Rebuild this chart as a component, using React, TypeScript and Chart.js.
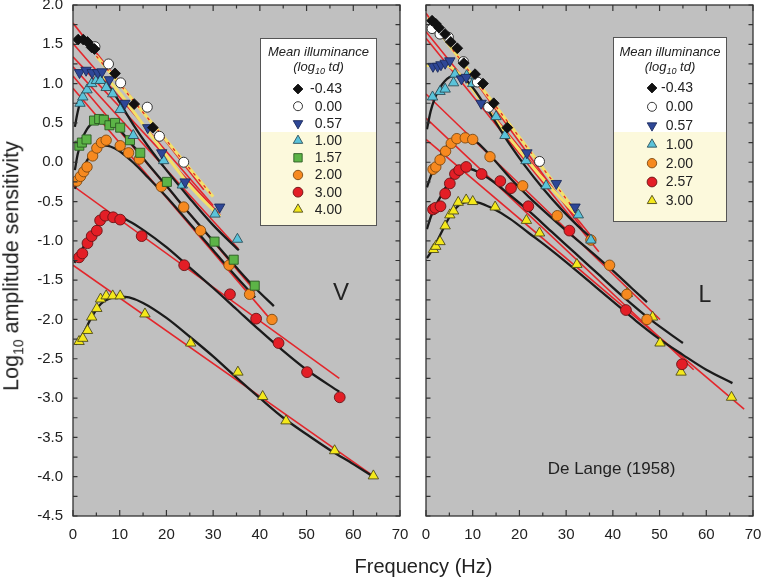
import React, { useEffect, useRef } from 'react';
import { Chart, registerables } from 'chart.js';
import { drawPoint } from 'chart.js/helpers';

Chart.register(...registerables);

const FONT = "'Liberation Sans', Arial, Helvetica, sans-serif";

// ---------- axis ticks ----------
const X_TICKS = [0, 10, 20, 30, 40, 50, 60, 70];
const X_MINOR = [0, 5, 10, 15, 20, 25, 30, 35, 40, 45, 50, 55, 60, 65, 70];
const Y_TICKS = [-4.5, -4.0, -3.5, -3.0, -2.5, -2.0, -1.5, -1.0, -0.5, 0.0, 0.5, 1.0, 1.5, 2.0];
const Y_MINOR = [-4.5, -4.25, -4.0, -3.75, -3.5, -3.25, -3.0, -2.75, -2.5, -2.25, -2.0, -1.75, -1.5, -1.25, -1.0, -0.75, -0.5, -0.25, 0.0, 0.25, 0.5, 0.75, 1.0, 1.25, 1.5, 1.75, 2.0];

// ---------- left panel (V) ----------
const V_LABELS = ['-0.43', '0.00', '0.57', '1.00', '1.57', '2.00', '3.00', '4.00'];
const V_m043_f = [1.1, 2.2, 3.1, 4.0, 4.6, 9.0, 13.1, 17.1];
const V_m043_v = [1.56, 1.56, 1.53, 1.46, 1.44, 1.13, 0.74, 0.44];
const V_000_f = [4.7, 7.6, 10.2, 15.9, 18.5, 23.7];
const V_000_v = [1.47, 1.25, 1.01, 0.70, 0.33, 0.00];
const V_057_f = [1.4, 2.8, 4.1, 5.3, 6.2, 7.8, 11.1, 16.0, 19.0, 24.0, 31.4];
const V_057_v = [1.14, 1.17, 1.14, 1.14, 1.15, 1.05, 0.75, 0.44, 0.12, -0.25, -0.57];
const V_100_f = [1.5, 2.1, 3.0, 4.0, 5.0, 5.9, 7.1, 8.5, 10.1, 12.9, 19.4, 23.4, 30.4, 35.2];
const V_100_v = [0.75, 0.83, 0.92, 1.00, 1.04, 1.04, 0.95, 0.87, 0.67, 0.34, 0.02, -0.29, -0.66, -0.98];
const V_157_f = [1.35, 1.9, 2.9, 4.5, 5.6, 6.6, 7.8, 9.0, 10.1, 12.2, 14.4, 20.1, 30.3, 34.4, 38.9];
const V_157_v = [0.21, 0.25, 0.29, 0.53, 0.55, 0.54, 0.47, 0.50, 0.44, 0.28, 0.12, -0.25, -1.01, -1.24, -1.57];
const V_200_f = [0.8, 1.6, 2.3, 3.0, 4.2, 5.1, 6.1, 7.1, 10.1, 11.9, 14.2, 18.9, 23.7, 27.3, 33.4, 37.8, 42.6];
const V_200_v = [-0.24, -0.18, -0.12, -0.06, 0.08, 0.18, 0.25, 0.28, 0.21, 0.12, 0.04, -0.31, -0.57, -0.87, -1.31, -1.68, -2.00];
const V_300_f = [1.3, 2.0, 3.1, 4.0, 5.1, 5.8, 6.9, 8.6, 10.1, 14.7, 23.8, 33.6, 39.2, 44.0, 50.1, 57.1];
const V_300_v = [-1.21, -1.16, -1.03, -0.94, -0.87, -0.74, -0.68, -0.70, -0.73, -0.94, -1.31, -1.68, -1.99, -2.30, -2.67, -2.99];
const V_400_f = [1.3, 2.1, 3.1, 4.0, 5.1, 5.9, 7.1, 8.5, 10.1, 15.4, 25.2, 35.3, 40.6, 45.6, 56.0, 64.3];
const V_400_v = [-2.28, -2.24, -2.14, -1.97, -1.86, -1.74, -1.70, -1.70, -1.70, -1.93, -2.30, -2.67, -2.98, -3.29, -3.67, -3.99];

// fitted curves (black)
const V_FIT100_f = [0.4, 1, 2, 3, 4, 5, 6, 7, 8.5, 10, 13, 16, 20, 25, 30, 35.5];
const V_FIT100_v = [0.45, 0.64, 0.85, 0.95, 1.01, 1.04, 1.04, 1.0, 0.9, 0.76, 0.47, 0.21, -0.1, -0.46, -0.8, -1.12];
const V_FIT157_f = [0.4, 1, 2, 3, 4, 5, 6.5, 8, 10, 13, 16, 20, 25, 30, 35, 39, 43];
const V_FIT157_v = [-0.1, 0.1, 0.3, 0.42, 0.49, 0.53, 0.54, 0.51, 0.41, 0.2, -0.02, -0.3, -0.66, -1.0, -1.34, -1.6, -1.83];
const V_FIT200_f = [0.4, 1, 2, 3, 4, 5, 6, 7, 8, 10, 13, 16, 20, 25, 30, 35, 39];
const V_FIT200_v = [-0.34, -0.24, -0.1, 0.02, 0.11, 0.17, 0.2, 0.21, 0.2, 0.14, -0.01, -0.19, -0.44, -0.78, -1.12, -1.46, -1.72];
const V_FIT300_f = [0.3, 2, 4, 6, 8, 10, 12, 15, 20, 25, 30, 35, 40, 45, 50, 57];
const V_FIT300_v = [-1.28, -1.1, -0.9, -0.76, -0.7, -0.7, -0.75, -0.86, -1.08, -1.34, -1.6, -1.87, -2.14, -2.4, -2.64, -2.92];
const V_FIT400_f = [0.5, 2, 4, 6, 8, 10, 12, 15, 20, 25, 30, 35, 40, 45, 50, 55, 60, 64.3];
const V_FIT400_v = [-2.32, -2.2, -1.97, -1.8, -1.73, -1.71, -1.72, -1.79, -1.98, -2.22, -2.47, -2.74, -3.0, -3.25, -3.46, -3.66, -3.84, -4.0];
// yellow curves
const V_YEL057_f = [5.5, 8, 10, 13, 16, 19, 22, 25, 28, 31.5];
const V_YEL057_v = [1.12, 1.02, 0.88, 0.64, 0.4, 0.16, -0.07, -0.3, -0.49, -0.69];
const V_YELTOP_f = [5, 30];
const V_YELTOP_v = [1.35, -0.44];
// straight red lines
const V_RED_F = [[0, 28], [0, 30], [0, 31.5], [0, 35.4], [0, 39], [0, 43], [0, 57], [0, 64.5]];
const V_RED_V = [[1.77, -0.35], [1.51, -0.55], [1.34, -0.67], [1.215, -1.1], [1.097, -1.64], [0.94, -2.05], [-0.30, -2.75], [-1.31, -4.0]];

// ---------- right panel (L) ----------
const L_LABELS = ['-0.43', '0.00', '0.57', '1.00', '2.00', '2.57', '3.00'];
const L_m043_f = [1.3, 2.1, 2.8, 4.1, 5.3, 6.7, 8.1, 10.5, 12.2, 14.5, 17.4];
const L_m043_v = [1.80, 1.76, 1.71, 1.63, 1.53, 1.45, 1.26, 1.12, 1.00, 0.75, 0.44];
const L_000_f = [1.3, 3.0, 4.8, 8.0, 11.0, 13.4, 24.3];
const L_000_v = [1.70, 1.63, 1.59, 1.28, 1.02, 0.70, 0.01];
const L_057_f = [1.5, 2.5, 3.2, 4.1, 5.1, 7.6, 8.6, 11.8, 13.5, 21.6, 27.9, 31.9];
const L_057_v = [1.22, 1.22, 1.24, 1.26, 1.29, 1.06, 1.08, 0.75, 0.70, 0.12, -0.27, -0.57];
const L_100_f = [1.4, 3.0, 4.1, 5.9, 6.2, 8.7, 10.0, 15.0, 16.9, 21.4, 25.7, 32.6, 35.3];
const L_100_v = [0.83, 0.90, 0.93, 1.01, 1.12, 1.10, 1.00, 0.58, 0.34, 0.02, -0.30, -0.67, -0.99];
const L_200_f = [1.5, 2.1, 3.0, 4.2, 5.4, 6.6, 8.4, 10.0, 13.7, 20.7, 28.1, 35.3, 39.3, 43.0, 47.3];
const L_200_v = [-0.09, -0.06, 0.03, 0.14, 0.24, 0.30, 0.31, 0.29, 0.07, -0.30, -0.68, -0.99, -1.31, -1.68, -2.00];
const L_257_f = [1.5, 2.0, 3.1, 4.1, 5.1, 6.2, 7.1, 8.6, 11.9, 15.9, 18.2, 21.9, 30.7, 42.8, 54.8];
const L_257_v = [-0.60, -0.58, -0.56, -0.40, -0.27, -0.15, -0.10, -0.06, -0.15, -0.24, -0.33, -0.56, -0.87, -1.88, -2.57];
const L_300_f = [1.6, 2.1, 3.0, 4.1, 5.1, 5.9, 6.9, 8.6, 10.0, 14.8, 21.5, 24.3, 32.3, 43.1, 48.5, 50.1, 54.6, 65.4];
const L_300_v = [-1.11, -1.07, -1.01, -0.81, -0.67, -0.62, -0.51, -0.48, -0.50, -0.57, -0.74, -0.90, -1.30, -1.67, -1.97, -2.30, -2.67, -2.99];

const L_FIT100_f = [0.2, 1, 2, 3, 4, 5, 6, 7, 8.5, 10, 12, 15, 18, 21, 25, 29, 32, 35.5];
const L_FIT100_v = [0.42, 0.65, 0.83, 0.95, 1.03, 1.08, 1.1, 1.1, 1.05, 0.95, 0.78, 0.5, 0.22, -0.03, -0.33, -0.6, -0.78, -0.97];
const L_FIT200_f = [0.2, 1, 2, 3, 4, 5, 6, 7, 8, 9, 11, 14, 18, 22, 26, 30, 35, 40, 44, 47.3];
const L_FIT200_v = [-0.32, -0.18, -0.03, 0.08, 0.17, 0.24, 0.29, 0.32, 0.33, 0.32, 0.25, 0.07, -0.2, -0.44, -0.66, -0.87, -1.12, -1.38, -1.6, -1.78];
const L_FIT257_f = [0.2, 1, 2, 3, 4, 5, 6, 7, 8, 9, 11, 14, 18, 22, 27, 32, 37, 42, 48, 55];
const L_FIT257_v = [-0.85, -0.7, -0.56, -0.45, -0.34, -0.24, -0.16, -0.11, -0.08, -0.08, -0.12, -0.23, -0.42, -0.62, -0.89, -1.16, -1.43, -1.7, -2.0, -2.3];
const L_FIT300_f = [0.2, 1.5, 3, 5, 7, 9, 11, 14, 18, 22, 26, 30, 35, 40, 45, 50, 55, 60, 65.6];
const L_FIT300_v = [-1.22, -1.1, -0.93, -0.7, -0.55, -0.5, -0.51, -0.58, -0.72, -0.9, -1.08, -1.27, -1.52, -1.77, -2.02, -2.25, -2.45, -2.64, -2.81];
const L_YEL057_f = [0, 3, 5, 7, 9, 12, 15, 18, 21, 24, 27, 30, 33];
const L_YEL057_v = [1.23, 1.24, 1.22, 1.13, 1.0, 0.77, 0.53, 0.3, 0.08, -0.14, -0.34, -0.53, -0.72];
const L_YELTOP_f = [0.5, 33];
const L_YELTOP_v = [1.84, -0.7];
const L_RED_F = [[0, 33.5], [0, 35.5], [0, 37], [0, 50.1], [0, 57.3], [0, 68.1]];
const L_RED_V = [[1.894, -0.85], [1.66, -0.95], [1.576, -1.14], [0.868, -2.0], [0.56, -2.64], [0.29, -3.14]];

// ---------- styles ----------
type Mark = { pointStyle: string; bg: string; border: string; radius: number; rotation: number };
const MARK: Record<string, Mark> = {
  diamond: { pointStyle: 'rectRot', bg: '#111111', border: '#111111', radius: 5.4, rotation: 0 },
  open: { pointStyle: 'circle', bg: '#ffffff', border: '#222222', radius: 5, rotation: 0 },
  down: { pointStyle: 'triangle', bg: '#2e4797', border: '#1b2a5c', radius: 6, rotation: 180 },
  up: { pointStyle: 'triangle', bg: '#5ac3da', border: '#2c4f5a', radius: 6, rotation: 0 },
  square: { pointStyle: 'rect', bg: '#5cb447', border: '#2b5a22', radius: 6.4, rotation: 0 },
  orange: { pointStyle: 'circle', bg: '#f6891f', border: '#7d4a12', radius: 5.2, rotation: 0 },
  red: { pointStyle: 'circle', bg: '#e31e26', border: '#6a1416', radius: 5.4, rotation: 0 },
  yellow: { pointStyle: 'triangle', bg: '#f4e81b', border: '#4d4a1c', radius: 6, rotation: 0 },
};

const V_SERIES = [
  { f: V_m043_f, v: V_m043_v, m: 'diamond' },
  { f: V_000_f, v: V_000_v, m: 'open' },
  { f: V_057_f, v: V_057_v, m: 'down' },
  { f: V_100_f, v: V_100_v, m: 'up' },
  { f: V_157_f, v: V_157_v, m: 'square' },
  { f: V_200_f, v: V_200_v, m: 'orange' },
  { f: V_300_f, v: V_300_v, m: 'red' },
  { f: V_400_f, v: V_400_v, m: 'yellow' },
];
const L_SERIES = [
  { f: L_m043_f, v: L_m043_v, m: 'diamond' },
  { f: L_000_f, v: L_000_v, m: 'open' },
  { f: L_057_f, v: L_057_v, m: 'down' },
  { f: L_100_f, v: L_100_v, m: 'up' },
  { f: L_200_f, v: L_200_v, m: 'orange' },
  { f: L_257_f, v: L_257_v, m: 'red' },
  { f: L_300_f, v: L_300_v, m: 'yellow' },
];

const pts = (f: number[], v: number[]) => f.map((x, i) => ({ x, y: v[i] }));

function buildDatasets(series: any[], fits: number[][][], yel: number[][][], yelTop: number[][], redF: number[][], redV: number[][]) {
  const ds: any[] = [];
  series.forEach((s) => {
    const mk = MARK[s.m];
    ds.push({
      data: pts(s.f, s.v), showLine: false, order: 0,
      pointStyle: mk.pointStyle, pointRadius: mk.radius, pointRotation: mk.rotation,
      pointBackgroundColor: mk.bg, pointBorderColor: mk.border, pointBorderWidth: 0.9,
    });
  });
  fits.forEach(([f, v]) => ds.push({
    data: pts(f, v), showLine: true, pointRadius: 0, borderColor: '#1b1b1b', borderWidth: 2.3,
    cubicInterpolationMode: 'monotone', order: 1,
  }));
  ds.push({
    data: pts(yelTop[0], yelTop[1]), showLine: true, pointRadius: 0, borderColor: '#e3262b', borderWidth: 1.3,
    borderDash: [3, 5], order: 2,
  });
  ds.push({
    data: pts(yelTop[0], yelTop[1]), showLine: true, pointRadius: 0, borderColor: '#f3e06a', borderWidth: 3.2, order: 3,
  });
  yel.forEach(([f, v]) => ds.push({
    data: pts(f, v), showLine: true, pointRadius: 0, borderColor: '#f3e06a', borderWidth: 3,
    cubicInterpolationMode: 'monotone', order: 3,
  }));
  redF.forEach((f, i) => ds.push({
    data: pts(f, redV[i]), showLine: true, pointRadius: 0, borderColor: '#e3262b', borderWidth: 1.6, order: 4,
  }));
  return ds;
}

type LegendCfg = {
  offX: number; offY: number; x: number; y: number; w: number; h: number; yellowY: number;
  titleX: number; titleY1: number; titleY2: number; markX: number; textR: number; rowY0: number; rowDy: number;
  labels: string[]; marks: string[];
};

const panelPlugin = {
  id: 'panel',
  beforeDraw(chart: any) {
    const { ctx, chartArea: a } = chart;
    ctx.save();
    ctx.fillStyle = '#c0c0c0';
    ctx.fillRect(a.left, a.top, a.right - a.left, a.bottom - a.top);
    ctx.restore();
  },
  afterDraw(chart: any, _args: any, opts: any) {
    const { ctx, chartArea: a, scales } = chart;
    const xs = scales.x, ys = scales.y;
    ctx.save();
    ctx.strokeStyle = '#333333';
    ctx.lineWidth = 1.2;
    ctx.beginPath();
    X_MINOR.forEach((f) => {
      const px = xs.getPixelForValue(f);
      const len = f % 10 === 0 ? 6 : 3.5;
      ctx.moveTo(px, a.bottom); ctx.lineTo(px, a.bottom - len);
      ctx.moveTo(px, a.top); ctx.lineTo(px, a.top + len);
    });
    Y_MINOR.forEach((v) => {
      const py = ys.getPixelForValue(v);
      ctx.moveTo(a.left, py); ctx.lineTo(a.left + 4.5, py);
      ctx.moveTo(a.right, py); ctx.lineTo(a.right - 4.5, py);
    });
    ctx.stroke();
    ctx.lineWidth = 1.3;
    ctx.strokeRect(a.left, a.top, a.right - a.left, a.bottom - a.top);

    const L: LegendCfg = opts.legend;
    if (L) {
      const bx = L.x - L.offX, by = L.y - L.offY;
      ctx.fillStyle = '#ffffff';
      ctx.fillRect(bx, by, L.w, L.h);
      ctx.fillStyle = '#fcf9dc';
      ctx.fillRect(bx, L.yellowY - L.offY, L.w, L.y + L.h - L.yellowY);
      ctx.strokeStyle = '#555555';
      ctx.lineWidth = 1;
      ctx.strokeRect(bx + 0.5, by + 0.5, L.w - 1, L.h - 1);
      ctx.fillStyle = '#222222';
      ctx.textBaseline = 'middle';
      ctx.textAlign = 'center';
      ctx.font = `italic 13px ${FONT}`;
      ctx.fillText('Mean illuminance', L.titleX - L.offX, L.titleY1 - L.offY);
      const p1 = '(log', p3 = ' td)';
      ctx.font = `italic 13px ${FONT}`;
      const w1 = ctx.measureText(p1).width, w3 = ctx.measureText(p3).width;
      ctx.font = `italic 9px ${FONT}`;
      const w2 = ctx.measureText('10').width;
      const tot = w1 + w2 + w3;
      let tx = L.titleX - L.offX - tot / 2;
      const ty = L.titleY2 - L.offY;
      ctx.textAlign = 'left';
      ctx.font = `italic 13px ${FONT}`;
      ctx.fillText(p1, tx, ty); tx += w1;
      ctx.font = `italic 9px ${FONT}`;
      ctx.fillText('10', tx, ty + 4); tx += w2;
      ctx.font = `italic 13px ${FONT}`;
      ctx.fillText(p3, tx, ty);
      ctx.font = `14px ${FONT}`;
      ctx.textAlign = 'right';
      L.labels.forEach((lab, i) => {
        const yy = L.rowY0 + i * L.rowDy - L.offY;
        const mk = MARK[L.marks[i]];
        ctx.fillStyle = mk.bg;
        ctx.strokeStyle = mk.border;
        ctx.lineWidth = 0.9;
        drawPoint(ctx, { pointStyle: mk.pointStyle, radius: mk.radius - 0.5, rotation: mk.rotation, borderWidth: 0.9 } as any, L.markX - L.offX, yy);
        ctx.fillStyle = '#222222';
        ctx.fillText(lab, L.textR - L.offX, yy + 0.5);
      });
    }
    ctx.restore();
  },
};

function makeConfig(datasets: any[], showLabels: boolean, yWidth: number, padding: any, legend: LegendCfg): any {
  return {
    type: 'scatter',
    data: { datasets },
    plugins: [panelPlugin],
    options: {
      animation: false,
      responsive: false,
      maintainAspectRatio: false,
      layout: { padding },
      plugins: {
        legend: { display: false },
        tooltip: { enabled: false },
        panel: { legend },
      },
      scales: {
        x: {
          type: 'linear', min: 0, max: 70,
          afterBuildTicks: (s: any) => { s.ticks = X_TICKS.map((value) => ({ value })); },
          ticks: { font: { family: FONT, size: 15 }, color: '#222222', padding: 10, maxRotation: 0, autoSkip: false },
          grid: { display: false, drawTicks: false },
          border: { display: false },
          afterFit: (s: any) => { s.height = 63; },
        },
        y: {
          type: 'linear', min: -4.5, max: 2.0, display: true,
          afterBuildTicks: (s: any) => { s.ticks = Y_TICKS.map((value) => ({ value })); },
          ticks: {
            display: showLabels,
            font: { family: FONT, size: 15 }, color: '#222222', padding: 10, autoSkip: false,
            callback: (v: any) => Number(v).toFixed(1),
          },
          grid: { display: false, drawTicks: false },
          border: { display: false },
          afterFit: (s: any) => { s.width = yWidth; },
        },
      },
    },
  };
}

export default function App() {
  const leftRef = useRef<HTMLCanvasElement>(null);
  const rightRef = useRef<HTMLCanvasElement>(null);

  useEffect(() => {
    const vDs = buildDatasets(
      V_SERIES,
      [[V_FIT100_f, V_FIT100_v], [V_FIT157_f, V_FIT157_v], [V_FIT200_f, V_FIT200_v], [V_FIT300_f, V_FIT300_v], [V_FIT400_f, V_FIT400_v]],
      [[V_YEL057_f, V_YEL057_v]],
      [V_YELTOP_f, V_YELTOP_v],
      V_RED_F, V_RED_V,
    );
    const lDs = buildDatasets(
      L_SERIES,
      [[L_FIT100_f, L_FIT100_v], [L_FIT200_f, L_FIT200_v], [L_FIT257_f, L_FIT257_v], [L_FIT300_f, L_FIT300_v]],
      [[L_YEL057_f, L_YEL057_v]],
      [L_YELTOP_f, L_YELTOP_v],
      L_RED_F, L_RED_V,
    );
    const vLegend: LegendCfg = {
      offX: 0, offY: -20, x: 260, y: 38, w: 117, h: 188, yellowY: 132,
      titleX: 318.5, titleY1: 52, titleY2: 67, markX: 298, textR: 342, rowY0: 89, rowDy: 17.2,
      labels: V_LABELS, marks: V_SERIES.map((s) => s.m),
    };
    const lLegend: LegendCfg = {
      offX: 395, offY: -20, x: 613, y: 37, w: 114, h: 185, yellowY: 132,
      titleX: 670, titleY1: 52, titleY2: 67, markX: 652, textR: 693, rowY0: 88, rowDy: 18.8,
      labels: L_LABELS, marks: L_SERIES.map((s) => s.m),
    };
    const c1 = new Chart(leftRef.current as HTMLCanvasElement, makeConfig(vDs, true, 73, { left: 0, right: 30, top: 25, bottom: 0 }, vLegend));
    const c2 = new Chart(rightRef.current as HTMLCanvasElement, makeConfig(lDs, false, 31, { left: 0, right: 37, top: 25, bottom: 0 }, lLegend));
    return () => { c1.destroy(); c2.destroy(); };
  }, []);

  const txt: React.CSSProperties = { position: 'absolute', whiteSpace: 'nowrap', color: '#222', lineHeight: 1 };
  return (
    <div style={{ position: 'absolute', left: 0, top: 0, width: 762, height: 579, overflow: 'hidden', background: '#fff', fontFamily: FONT }}>
      <canvas ref={leftRef} width={430} height={599} style={{ position: 'absolute', left: 0, top: -20, width: 430, height: 599 }} />
      <canvas ref={rightRef} width={395} height={599} style={{ position: 'absolute', left: 395, top: -20, width: 395, height: 599 }} />
      <div style={{ ...txt, left: 12, top: 266, fontSize: 21.5, transform: 'translate(-50%, -50%) rotate(-90deg)' }}>
        Log<span style={{ fontSize: 14, position: 'relative', top: 5 }}>10</span> amplitude sensitivity
      </div>
      <div style={{ ...txt, left: 423.5, top: 566, fontSize: 20, transform: 'translate(-50%, -50%)' }}>Frequency (Hz)</div>
      <div style={{ ...txt, left: 341, top: 292, fontSize: 24, transform: 'translate(-50%, -50%)' }}>V</div>
      <div style={{ ...txt, left: 705, top: 294, fontSize: 23, transform: 'translate(-50%, -50%)' }}>L</div>
      <div style={{ ...txt, left: 611.5, top: 468, fontSize: 17, transform: 'translate(-50%, -50%)' }}>De Lange (1958)</div>
    </div>
  );
}
